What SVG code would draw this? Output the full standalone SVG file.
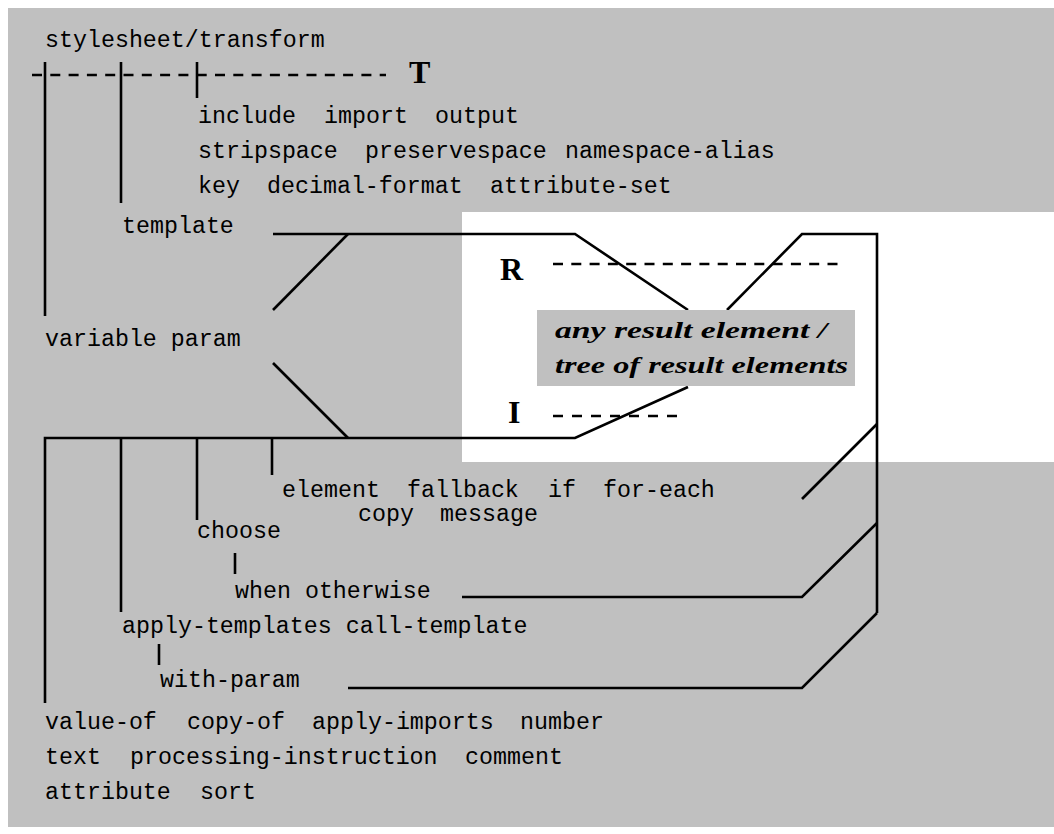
<svg xmlns="http://www.w3.org/2000/svg" width="1054" height="834" viewBox="0 0 1054 834">
<style>
.bg{fill:#c0c0c0;stroke:none}
.ln{fill:none;stroke:#000;stroke-width:2.6;stroke-linecap:butt;stroke-linejoin:miter}
.dash{fill:none;stroke:#000;stroke-width:2.6;stroke-dasharray:10 8.3}
.tt{font-family:"Liberation Mono","DejaVu Sans Mono",monospace;font-size:23.3px;fill:#000}
.big{font-family:"Liberation Serif","DejaVu Serif",serif;font-weight:bold;font-size:32px;fill:#000}
.it{font-family:"Liberation Serif","DejaVu Serif",serif;font-weight:bold;font-style:italic;font-size:24px;fill:#000}
</style>
<path class="bg" d="M8 8H1054V212H462V462H1054V827H8Z"/>
<g id="connectors">
<line class="dash" x1="32" y1="75" x2="386" y2="75"/>
<line class="dash" x1="553" y1="264" x2="839" y2="264"/>
<line class="dash" x1="553" y1="416" x2="679" y2="416" style="stroke-dasharray:10 9"/>
<path class="ln" d="M45 62V316"/>
<path class="ln" d="M121 62V203"/>
<path class="ln" d="M197 62V98"/>
<path class="ln" d="M273 234H575L688 310"/>
<path class="ln" d="M348 234L273 310"/>
<path class="ln" d="M273 363L348 438"/>
<path class="ln" d="M45 703V438H575L688 387"/>
<path class="ln" d="M121 438V612"/>
<path class="ln" d="M197 438V520"/>
<path class="ln" d="M272 438V475"/>
<path class="ln" d="M727 310L802 234H877V613"/>
<path class="ln" d="M877 424L802 499"/>
<path class="ln" d="M877 523L802 597H462"/>
<path class="ln" d="M877 613L802 688H348"/>
<path class="ln" d="M235 553V574"/>
<path class="ln" d="M159 644V665"/>
</g>
<g id="stylesheet"><text class="tt" x="45" y="47">stylesheet/transform</text></g>
<g id="T"><text class="big" x="409" y="83">T</text></g>
<g id="toplevel">
<text class="tt" y="123"><tspan x="198">include</tspan><tspan x="324">import</tspan><tspan x="435">output</tspan></text>
<text class="tt" y="158"><tspan x="198">stripspace</tspan><tspan x="365">preservespace</tspan><tspan x="565">namespace-alias</tspan></text>
<text class="tt" y="193"><tspan x="198">key</tspan><tspan x="267">decimal-format</tspan><tspan x="490">attribute-set</tspan></text>
</g>
<g id="template"><text class="tt" x="122" y="233">template</text></g>
<g id="variable-param"><text class="tt" x="45" y="346">variable param</text></g>
<g id="R"><text class="big" x="500" y="280">R</text></g>
<g id="I"><text class="big" x="508" y="423">I</text></g>
<g id="result">
<rect class="bg" x="537" y="310" width="318" height="76"/>
<text class="it" x="555" y="338" textLength="272" lengthAdjust="spacingAndGlyphs">any result element /</text>
<text class="it" x="555" y="373" textLength="293" lengthAdjust="spacingAndGlyphs">tree of result elements</text>
</g>
<g id="instructions">
<text class="tt" y="497"><tspan x="282">element</tspan><tspan x="407">fallback</tspan><tspan x="548">if</tspan><tspan x="603">for-each</tspan></text>
<text class="tt" y="521"><tspan x="358">copy</tspan><tspan x="440">message</tspan></text>
</g>
<g id="choose"><text class="tt" x="197" y="538">choose</text></g>
<g id="when"><text class="tt" x="235" y="598">when otherwise</text></g>
<g id="apply-templates"><text class="tt" x="122" y="633">apply-templates call-template</text></g>
<g id="with-param"><text class="tt" x="160" y="687">with-param</text></g>
<g id="leaf">
<text class="tt" y="729"><tspan x="45">value-of</tspan><tspan x="187">copy-of</tspan><tspan x="312">apply-imports</tspan><tspan x="520">number</tspan></text>
<text class="tt" y="764"><tspan x="45">text</tspan><tspan x="130">processing-instruction</tspan><tspan x="465">comment</tspan></text>
<text class="tt" y="799"><tspan x="45">attribute</tspan><tspan x="200">sort</tspan></text>
</g>
</svg>
